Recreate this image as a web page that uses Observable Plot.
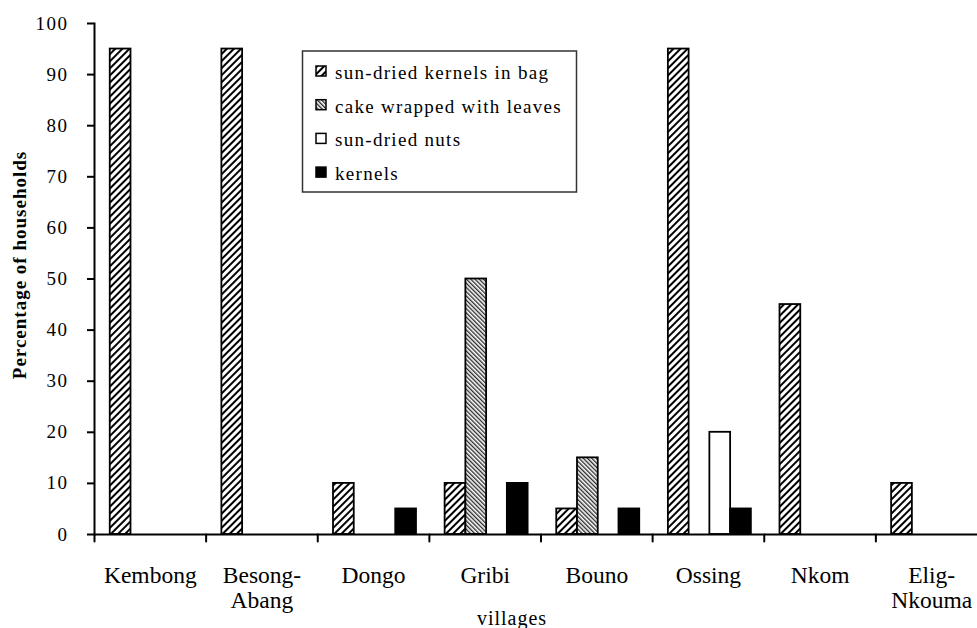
<!DOCTYPE html>
<html><head><meta charset="utf-8">
<script src="https://cdn.jsdelivr.net/npm/d3@7"></script>
<script src="https://cdn.jsdelivr.net/npm/@observablehq/plot@0.6"></script>
<style>html,body{margin:0;padding:0;background:#fff;overflow:hidden;} svg{overflow:hidden;display:block;}</style>
</head><body><div id="chart"></div>
<script>
// ---- data ----
const villages = ["Kembong", "Besong-Abang", "Dongo", "Gribi", "Bouno", "Ossing", "Nkom", "Elig-Nkouma"];
const villageLabels = ["Kembong", "Besong-\nAbang", "Dongo", "Gribi", "Bouno", "Ossing", "Nkom", "Elig-\nNkouma"];
const series = ["sun-dried kernels in bag", "cake wrapped with leaves", "sun-dried nuts", "kernels"];
const kernelsInBag = [95, 95, 10, 10, 5, 95, 45, 10];
const cakeWrappedWithLeaves = [0, 0, 0, 50, 15, 0, 0, 0];
const sunDriedNuts = [0, 0, 0, 0, 0, 20, 0, 0];
const kernels = [0, 0, 5, 10, 5, 5, 0, 0];
const yTicks = [0, 10, 20, 30, 40, 50, 60, 70, 80, 90, 100];
const yLabel = "Percentage of households";
const xLabel = "villages";

const seriesValues = [kernelsInBag, cakeWrappedWithLeaves, sunDriedNuts, kernels];
const table = villages.flatMap((v, i) => series.map((s, j) => ({village: v, series: s, value: seriesValues[j][i]})))
  .filter(d => d.value > 0);

const FONT = "'Liberation Serif', 'Times New Roman', serif";
const tickShape = {draw(context, l) { context.moveTo(0, 0); context.lineTo(0, -l); }};

const chart = Plot.plot({
  width: 977, height: 628,
  marginLeft: 94, marginRight: -10, marginTop: 23, marginBottom: 94,
  style: {fontFamily: FONT, fontSize: "19px", background: "white", color: "black", overflow: "hidden"},
  fx: {domain: villages, padding: 0, round: false, axis: null, label: null},
  x: {domain: series, axis: null, round: false, paddingInner: 0, paddingOuter: 0.69, align: 0.55},
  y: {domain: [0, 100], axis: null},
  color: {domain: series, range: ["url(#hatchBag)", "url(#hatchCake)", "white", "black"]},
  marks: [
    Plot.barY(table, {fx: "village", x: "series", y: "value", fill: "series", stroke: "black", strokeWidth: 1.8}),
    Plot.ruleY([0], {strokeWidth: 2}),
    Plot.frame({anchor: "left", facetAnchor: "left", strokeWidth: 2}),
    Plot.axisY({ticks: yTicks, tickSize: 7, tickPadding: 19, strokeWidth: 2, label: null, fontSize: 19}),
    Plot.vector(villages, {fx: d => d, frameAnchor: "bottom-left", length: 7, rotate: 180, anchor: "start", shape: tickShape, strokeWidth: 2, stroke: "black"}),
    Plot.text(villages, {fx: d => d, text: d => villageLabels[villages.indexOf(d)], frameAnchor: "bottom", lineAnchor: "top", dy: 31, fontSize: 23.5, lineHeight: 1.07})
  ]
});
document.getElementById("chart").appendChild(chart);

const svg = d3.select(chart);
svg.selectAll("[aria-label='y-axis tick label'] text").style("letter-spacing", "1.5px");

// patterns
const defs = svg.insert("defs", ":first-child");
const p1 = defs.append("pattern").attr("id", "hatchBag").attr("patternUnits", "userSpaceOnUse")
  .attr("width", 5).attr("height", 5).attr("patternTransform", "rotate(45)");
p1.append("rect").attr("width", 5).attr("height", 5).attr("fill", "white");
p1.append("line").attr("x1", 1).attr("y1", -1).attr("x2", 1).attr("y2", 6).attr("stroke", "black").attr("stroke-width", 2);
const p2 = defs.append("pattern").attr("id", "hatchCake").attr("patternUnits", "userSpaceOnUse")
  .attr("width", 3).attr("height", 3).attr("patternTransform", "rotate(-45)");
p2.append("rect").attr("width", 3).attr("height", 3).attr("fill", "white");
p2.append("line").attr("x1", 0.7).attr("y1", -1).attr("x2", 0.7).attr("y2", 4).attr("stroke", "#222").attr("stroke-width", 1.3);

// axis titles
svg.append("text").attr("transform", "translate(26,265) rotate(-90)").attr("text-anchor", "middle")
  .style("font-family", FONT).style("font-size", "19px").style("font-weight", "bold").style("letter-spacing", "1px")
  .attr("fill", "black").text(yLabel);
svg.append("text").attr("x", 512).attr("y", 625).attr("text-anchor", "middle")
  .style("font-family", FONT).style("font-size", "20px").style("letter-spacing", "1px")
  .attr("fill", "black").text(xLabel);

// legend
const fills = ["url(#hatchBag)", "url(#hatchCake)", "white", "black"];
const lg = svg.append("g").attr("aria-label", "legend").attr("text-anchor", "start");
lg.append("rect").attr("x", 302.5).attr("y", 51).attr("width", 274).attr("height", 141)
  .attr("fill", "white").attr("stroke", "#333").attr("stroke-width", 1.5);
series.forEach((s, i) => {
  const base = 79 + i * 33.7;
  lg.append("rect").attr("x", 316).attr("y", base - 13).attr("width", 10).attr("height", 10)
    .attr("fill", fills[i]).attr("stroke", "black").attr("stroke-width", 1.5);
  lg.append("text").attr("x", 335).attr("y", base).attr("text-anchor", "start")
    .style("font-family", FONT).style("font-size", "19px").style("letter-spacing", "1.3px")
    .attr("fill", "black").text(s);
});
</script>
</body></html>
